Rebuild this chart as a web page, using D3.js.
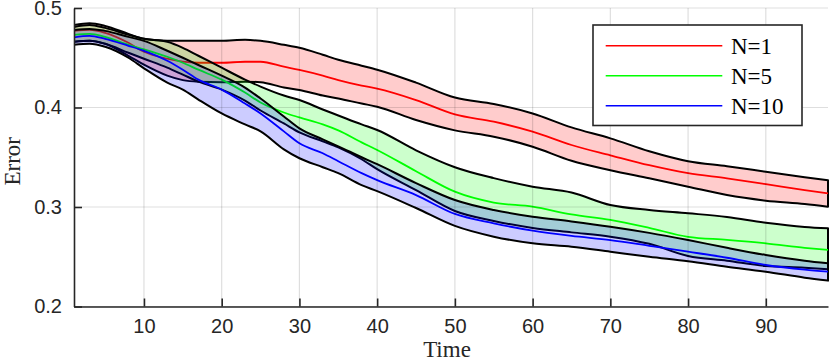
<!DOCTYPE html>
<html>
<head>
<meta charset="utf-8">
<script src="https://cdn.jsdelivr.net/npm/d3@7"></script>
<style>
  body { margin: 0; background: #fff; }
  svg { display: block; }
</style>
</head>
<body>
<script>
var W = 830, H = 363;
var margin = {top: 8, right: 2, bottom: 56.5, left: 74};

var time = [1, 3, 5, 8, 10, 13, 15, 17, 20, 23, 25, 28, 30, 33, 35, 38, 40, 45, 50, 55, 60, 65, 70, 75, 80, 85, 90, 95, 98];

var n1Upper = [0.483, 0.4846, 0.482, 0.474, 0.469, 0.467, 0.467, 0.467, 0.467, 0.468, 0.467, 0.463, 0.460, 0.453, 0.448, 0.442, 0.438, 0.425, 0.410, 0.4035, 0.394, 0.380, 0.369, 0.356, 0.346, 0.341, 0.3355, 0.330, 0.327];
var n1Mean  = [0.477, 0.478, 0.475, 0.465, 0.456, 0.449, 0.446, 0.445, 0.445, 0.446, 0.446, 0.441, 0.4377, 0.432, 0.4276, 0.422, 0.419, 0.4075, 0.393, 0.3857, 0.3757, 0.3623, 0.352, 0.342, 0.334, 0.3288, 0.323, 0.317, 0.3137];
var n1Lower = [0.466, 0.467, 0.464, 0.452, 0.443, 0.432, 0.4275, 0.426, 0.4255, 0.426, 0.4255, 0.420, 0.4176, 0.412, 0.409, 0.404, 0.4008, 0.3874, 0.377, 0.3707, 0.3606, 0.3465, 0.337, 0.3288, 0.3204, 0.312, 0.3064, 0.303, 0.3003];

var n5Upper = [0.481, 0.483, 0.480, 0.473, 0.469, 0.466, 0.460, 0.452, 0.440, 0.428, 0.421, 0.412, 0.4075, 0.398, 0.392, 0.383, 0.3774, 0.357, 0.340, 0.329, 0.3204, 0.3145, 0.302, 0.297, 0.2937, 0.290, 0.2842, 0.280, 0.2786];
var n5Mean  = [0.4729, 0.474, 0.471, 0.463, 0.4585, 0.451, 0.445, 0.438, 0.428, 0.415, 0.405, 0.395, 0.390, 0.383, 0.377, 0.365, 0.3573, 0.336, 0.3154, 0.3045, 0.3003, 0.2925, 0.287, 0.279, 0.270, 0.267, 0.2635, 0.259, 0.2568];
var n5Lower = [0.466, 0.467, 0.464, 0.455, 0.449, 0.440, 0.433, 0.426, 0.418, 0.407, 0.397, 0.384, 0.375, 0.366, 0.360, 0.348, 0.338, 0.317, 0.296, 0.286, 0.279, 0.2745, 0.2702, 0.263, 0.2508, 0.246, 0.2407, 0.239, 0.2374];

var n10Upper = [0.478, 0.479, 0.477, 0.471, 0.467, 0.457, 0.450, 0.4427, 0.432, 0.420, 0.409, 0.391, 0.379, 0.368, 0.361, 0.350, 0.343, 0.324, 0.307, 0.297, 0.2903, 0.2855, 0.2802, 0.274, 0.2668, 0.259, 0.2518, 0.246, 0.2434];
var n10Mean  = [0.4705, 0.472, 0.469, 0.462, 0.457, 0.447, 0.438, 0.428, 0.418, 0.404, 0.394, 0.376, 0.364, 0.354, 0.346, 0.334, 0.327, 0.312, 0.293, 0.2836, 0.2762, 0.2709, 0.2668, 0.261, 0.2551, 0.249, 0.2417, 0.237, 0.235];
var n10Lower = [0.463, 0.464, 0.461, 0.450, 0.4394, 0.425, 0.418, 0.408, 0.394, 0.383, 0.376, 0.358, 0.349, 0.340, 0.334, 0.322, 0.316, 0.299, 0.281, 0.2702, 0.2635, 0.2601, 0.2551, 0.250, 0.2455, 0.240, 0.235, 0.229, 0.226];

var seriesNames = ["N=1", "N=5", "N=10"];
var seriesColors = ["#ff0000", "#00ff00", "#0000ff"];
var xTicks = [10, 20, 30, 40, 50, 60, 70, 80, 90];
var yTicks = [0.2, 0.3, 0.4, 0.5];

var series = [
  {name: seriesNames[0], color: seriesColors[0], mean: n1Mean, upper: n1Upper, lower: n1Lower},
  {name: seriesNames[1], color: seriesColors[1], mean: n5Mean, upper: n5Upper, lower: n5Lower},
  {name: seriesNames[2], color: seriesColors[2], mean: n10Mean, upper: n10Upper, lower: n10Lower}
];

var w = W - margin.left - margin.right,
    h = H - margin.top - margin.bottom;

var x = d3.scaleLinear().domain([1, 98]).range([0, w]);
var y = d3.scaleLinear().domain([0.2, 0.5]).range([h, 0]);

var svg = d3.select("body").append("svg")
    .attr("width", W)
    .attr("height", H)
    .append("g")
    .attr("transform", "translate(" + margin.left + "," + margin.top + ")");

svg.append("clipPath").attr("id", "clip")
  .append("rect").attr("x", 0).attr("y", -2).attr("width", w + 2).attr("height", h + 2);

var plot = svg.append("g").attr("clip-path", "url(#clip)");

var curve = d3.curveMonotoneX;

series.forEach(function(s) {
  var pts = time.map(function(t, i) { return {t: t, m: s.mean[i], u: s.upper[i], l: s.lower[i]}; });

  var area = d3.area().curve(curve)
      .x(function(d) { return x(d.t); })
      .y0(function(d) { return y(d.l); })
      .y1(function(d) { return y(d.u); });

  plot.append("path")
      .datum(pts)
      .attr("d", area)
      .attr("fill", s.color)
      .attr("fill-opacity", 0.2)
      .attr("stroke", "#000")
      .attr("stroke-width", 2)
      .attr("stroke-linejoin", "round");

  plot.append("path")
      .datum(pts)
      .attr("d", d3.line().curve(curve).x(function(d) { return x(d.t); }).y(function(d) { return y(d.m); }))
      .attr("fill", "none")
      .attr("stroke", s.color)
      .attr("stroke-width", 1.8);
});

// grid on top, faint
var grid = svg.append("g");
grid.selectAll("line.vx").data(xTicks).enter().append("line")
    .attr("x1", function(d) { return x(d); }).attr("x2", function(d) { return x(d); })
    .attr("y1", 0).attr("y2", h)
    .attr("stroke", "#000").attr("stroke-opacity", 0.13).attr("stroke-width", 1.2);
grid.selectAll("line.hy").data(yTicks).enter().append("line")
    .attr("x1", 0).attr("x2", w)
    .attr("y1", function(d) { return y(d); }).attr("y2", function(d) { return y(d); })
    .attr("stroke", "#000").attr("stroke-opacity", 0.13).attr("stroke-width", 1.2);

// axes
var xAxis = svg.append("g")
    .attr("transform", "translate(0," + h + ")")
    .call(d3.axisBottom(x).tickValues(xTicks).tickSize(-8).tickPadding(12).tickSizeOuter(0));
var yAxis = svg.append("g")
    .call(d3.axisLeft(y).tickValues(yTicks).tickFormat(d3.format(".1f")).tickSize(-8).tickPadding(12).tickSizeOuter(0));

[xAxis, yAxis].forEach(function(a) {
  a.select(".domain").attr("stroke", "#262626").attr("stroke-width", 1.6);
  a.selectAll(".tick line").attr("stroke", "#262626").attr("stroke-width", 1.6);
  a.selectAll(".tick text")
    .attr("fill", "#262626")
    .style("font-family", "'Liberation Sans', Arial, Helvetica, sans-serif")
    .style("font-size", "20px");
});

// axis labels
svg.append("text")
    .attr("x", w / 2 - 4)
    .attr("y", h + 50)
    .attr("text-anchor", "middle")
    .style("font-family", "'Liberation Serif', 'Times New Roman', serif")
    .style("font-size", "23px")
    .attr("fill", "#262626")
    .text("Time");

svg.append("text")
    .attr("transform", "translate(" + (-54) + "," + (h / 2 + 4) + ") rotate(-90)")
    .attr("text-anchor", "middle")
    .style("font-family", "'Liberation Serif', 'Times New Roman', serif")
    .style("font-size", "23px")
    .attr("fill", "#262626")
    .text("Error");

// legend
var lg = svg.append("g").attr("transform", "translate(" + (593 - margin.left) + "," + (25 - margin.top) + ")");
lg.append("rect")
    .attr("width", 209).attr("height", 100.5)
    .attr("fill", "#fff")
    .attr("stroke", "#262626").attr("stroke-width", 1.6);

var rows = lg.selectAll("g.row").data(series).enter().append("g")
    .attr("transform", function(d, i) { return "translate(0," + (20.7 + i * 30) + ")"; });
rows.append("line")
    .attr("x1", 12.7).attr("x2", 129.3)
    .attr("stroke", function(d) { return d.color; })
    .attr("stroke-width", 1.6);
rows.append("text")
    .attr("x", 138).attr("y", 8)
    .style("font-family", "'Liberation Serif', 'Times New Roman', serif")
    .style("font-size", "23px")
    .attr("fill", "#000")
    .text(function(d) { return d.name; });
</script>
</body>
</html>
